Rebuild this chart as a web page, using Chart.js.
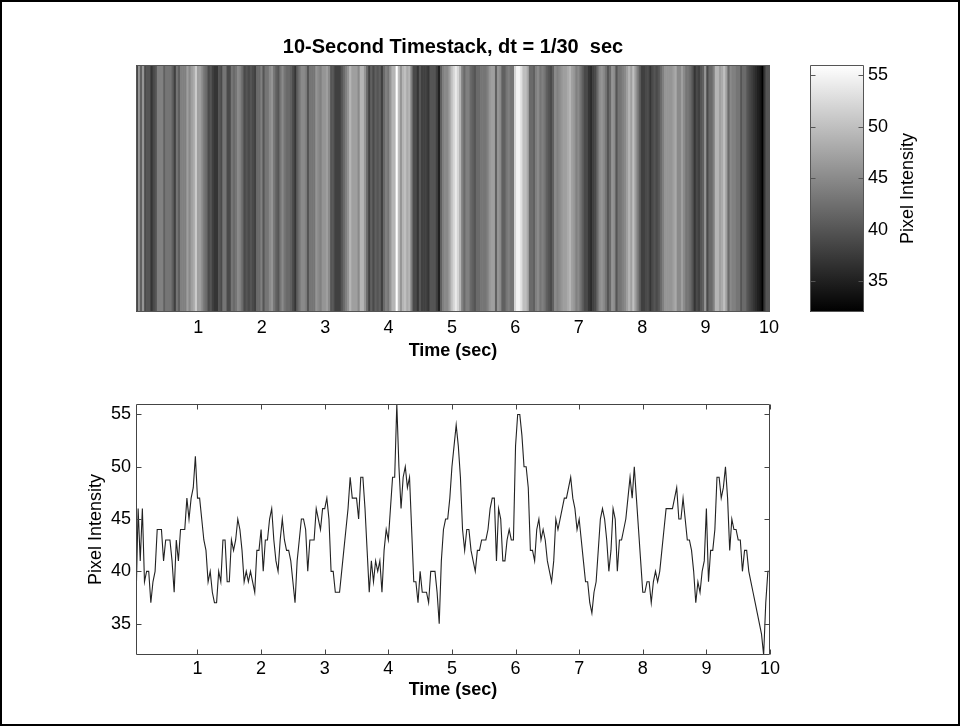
<!DOCTYPE html>
<html>
<head>
<meta charset="utf-8">
<title>10-Second Timestack</title>
<script src="https://cdn.jsdelivr.net/npm/chart.js@4.4.1/dist/chart.umd.min.js"></script>
<style>
  html, body { margin: 0; padding: 0; background: #fff; }
  #page { position: relative; width: 960px; height: 726px; overflow: hidden; }
  #page canvas { position: absolute; }
  #edge { position: absolute; left: 0; top: 0; width: 960px; height: 726px; box-sizing: border-box; border: 2px solid #000; pointer-events: none; }
</style>
</head>
<body>
<div id="page">
  <canvas id="stack" width="960" height="380" style="left:0;top:0"></canvas>
  <canvas id="colorbar" width="180" height="380" style="left:780px;top:0"></canvas>
  <canvas id="trace" width="960" height="346" style="left:0;top:380px"></canvas>
  <div id="edge"></div>
</div>
<script>
const DT = 1 / 30;
const DURATION = 10;

// one sample every 1/30 s, one row per second
const PIXEL_INTENSITY = [
  37, 46, 41, 46, 39, 40, 40, 37, 39, 40, 44, 44, 44, 41, 43, 43, 43, 41, 38, 43, 41, 44, 44, 44, 47, 45, 47, 48, 51, 47,
  47, 45, 43, 42, 39, 40, 38, 37, 37, 40, 39, 43, 43, 39, 39, 43, 42, 43, 45, 44, 42, 39, 40, 39, 40, 39, 38, 42, 42, 44,
  40, 43, 43, 45, 46, 43, 41, 40, 43, 45, 43, 42, 42, 41, 39, 37, 41, 43, 45, 45, 44, 40, 43, 43, 43, 46, 45, 44, 46, 46,
  47, 45, 40, 40, 38, 38, 38, 40, 42, 44, 46, 49, 47, 47, 47, 45, 49, 49, 46, 42, 38, 41, 39, 41, 40, 41, 38, 42, 44, 43,
  46, 49, 49, 56, 50, 46, 49, 50, 48, 49, 44, 39, 39, 37, 40, 38, 38, 38, 37, 40, 40, 40, 38, 35, 41, 44, 45, 45, 47, 50,
  52, 54, 52, 49, 44, 42, 44, 44, 42, 41, 40, 42, 42, 43, 43, 43, 44, 46, 47, 47, 41, 46, 45, 41, 41, 43, 44, 43, 43, 52,
  55, 55, 53, 50, 50, 48, 42, 42, 41, 44, 45, 43, 44, 43, 41, 40, 39, 41, 45, 44, 45, 46, 47, 47, 48, 49, 47, 46, 44, 45,
  43, 41, 39, 39, 37, 36, 38, 39, 42, 45, 46, 45, 43, 40, 42, 46, 45, 40, 43, 43, 44, 45, 47, 49, 47, 50, 47, 44, 41, 38,
  38, 39, 39, 37, 39, 40, 39, 40, 42, 44, 46, 46, 46, 46, 47, 48, 45, 45, 47, 45, 43, 43, 42, 40, 37, 39, 38, 40, 41, 46,
  39, 42, 42, 44, 49, 49, 47, 48, 50, 47, 42, 45, 44, 44, 43, 43, 40, 42, 42, 40, 39, 38, 37, 36, 35, 34, 32, 37, 40, 40
];

const TIME_TICKS = [1, 2, 3, 4, 5, 6, 7, 8, 9, 10];
const INTENSITY_TICKS = [35, 40, 45, 50, 55];
const COLOR_MIN = 32;
const COLOR_MAX = 56;

const TITLE = `10-Second Timestack, dt = 1/30  sec`;
const TIME_LABEL = `Time (sec)`;
const INTENSITY_LABEL = `Pixel Intensity`;

const FONT = `"Liberation Sans", Arial, Helvetica, sans-serif`;
const TICK_FONT = {family: FONT, size: 18};
const LABEL_FONT = {family: FONT, size: 18, weight: `bold`};

const times = PIXEL_INTENSITY.map((v, i) => (i + 1) * DT);

const toGray = (v) => {
  const g = Math.round((v - COLOR_MIN) / (COLOR_MAX - COLOR_MIN) * 255);
  return `rgb(${g},${g},${g})`;
};

const setTicks = (values) => (scale) => {
  scale.ticks = values.map((value) => ({value}));
};

const fixSize = (size) => (scale) => {
  if (scale.isHorizontal()) {
    scale.height = size;
  } else {
    scale.width = size;
  }
  scale.paddingLeft = 0;
  scale.paddingRight = 0;
  scale.paddingTop = 0;
  scale.paddingBottom = 0;
};

// box around the axes with short inward ticks, matlab style
const framePlugin = {
  id: `frame`,
  afterDraw(chart, args, opts) {
    const {ctx, chartArea: a, scales} = chart;
    const len = 5;
    const left = Math.round(a.left) + 0.5;
    const right = Math.round(a.right) - 0.5;
    const top = Math.round(a.top) + 0.5;
    const bottom = Math.round(a.bottom) - 0.5;

    ctx.save();
    ctx.strokeStyle = opts.color || `#444`;
    ctx.lineWidth = 1;
    ctx.beginPath();
    ctx.rect(left, top, right - left, bottom - top);

    (opts.xTicks || []).forEach((v) => {
      const x = Math.round(scales.x.getPixelForValue(v)) + 0.5;
      ctx.moveTo(x, bottom);
      ctx.lineTo(x, bottom - len);
      ctx.moveTo(x, top);
      ctx.lineTo(x, top + len);
    });
    (opts.yTicks || []).forEach((v) => {
      const y = Math.round(scales.y.getPixelForValue(v)) + 0.5;
      ctx.moveTo(left, y);
      ctx.lineTo(left + len, y);
      ctx.moveTo(right, y);
      ctx.lineTo(right - len, y);
    });
    ctx.stroke();
    ctx.restore();
  }
};

// colorbar label reads bottom to top, chart.js would turn it the other way on a right axis
const sideLabelPlugin = {
  id: `sideLabel`,
  afterDraw(chart, args, opts) {
    if (!opts.text) {
      return;
    }
    const {ctx, chartArea: a} = chart;
    ctx.save();
    ctx.translate(opts.x, (a.top + a.bottom) / 2);
    ctx.rotate(-Math.PI / 2);
    ctx.font = `${opts.size}px ${FONT}`;
    ctx.fillStyle = `#000`;
    ctx.textAlign = `center`;
    ctx.textBaseline = `middle`;
    ctx.fillText(opts.text, 0, 0);
    ctx.restore();
  }
};

Chart.register(framePlugin, sideLabelPlugin);
Chart.defaults.font.family = FONT;
Chart.defaults.color = `#000`;

const timeAxis = (min, max, height, pad) => ({
  type: `linear`,
  min,
  max,
  offset: false,
  grid: {display: false, drawTicks: false, tickLength: 0},
  border: {display: false},
  ticks: {font: TICK_FONT, color: `#000`, padding: pad, autoSkip: false, maxRotation: 0},
  afterBuildTicks: setTicks(TIME_TICKS),
  afterFit: fixSize(height),
  title: {display: true, text: TIME_LABEL, font: LABEL_FONT, color: `#000`, padding: 0}
});

const baseOptions = {
  responsive: false,
  animation: false,
  events: [],
  plugins: {
    legend: {display: false},
    tooltip: {enabled: false}
  }
};

new Chart(document.getElementById(`stack`), {
  type: `bar`,
  data: {
    datasets: [{
      data: times.map((t) => ({x: t, y: 1})),
      backgroundColor: PIXEL_INTENSITY.map(toGray),
      borderWidth: 0,
      barPercentage: 1.3,
      categoryPercentage: 1
    }]
  },
  options: {
    ...baseOptions,
    layout: {padding: {left: 136, right: 190, top: 35, bottom: 18.2}},
    plugins: {
      ...baseOptions.plugins,
      title: {
        display: true,
        text: TITLE,
        color: `#000`,
        font: {family: FONT, size: 20, weight: `bold`},
        padding: {top: 0, bottom: 6}
      },
      frame: {color: `#555`}
    },
    scales: {
      x: timeAxis(DT / 2, DURATION + DT / 2, 49.8, 5),
      y: {display: false, min: 0, max: 1}
    }
  }
});

new Chart(document.getElementById(`colorbar`), {
  type: `bar`,
  data: {
    labels: [``],
    datasets: [{
      data: [[COLOR_MIN, COLOR_MAX]],
      backgroundColor: (c) => {
        const {ctx, chartArea} = c.chart;
        if (!chartArea) {
          return `#808080`;
        }
        const gradient = ctx.createLinearGradient(0, chartArea.bottom, 0, chartArea.top);
        gradient.addColorStop(0, `#000`);
        gradient.addColorStop(1, `#fff`);
        return gradient;
      },
      borderWidth: 0,
      barPercentage: 1,
      categoryPercentage: 1
    }]
  },
  options: {
    ...baseOptions,
    layout: {padding: {left: 30, right: 0, top: 65, bottom: 68}},
    plugins: {
      ...baseOptions.plugins,
      frame: {yTicks: INTENSITY_TICKS, color: `#555`},
      sideLabel: {text: INTENSITY_LABEL, x: 128, size: 18}
    },
    scales: {
      x: {display: false},
      y: {
        position: `right`,
        min: COLOR_MIN,
        max: COLOR_MAX,
        grid: {display: false, drawTicks: false, tickLength: 0},
        border: {display: false},
        ticks: {font: TICK_FONT, color: `#000`, padding: 4},
        afterBuildTicks: setTicks(INTENSITY_TICKS),
        afterFit: fixSize(96)
      }
    }
  }
});

new Chart(document.getElementById(`trace`), {
  type: `line`,
  data: {
    datasets: [{
      data: PIXEL_INTENSITY.map((v, i) => ({x: times[i], y: v})),
      borderColor: `#222`,
      borderWidth: 1.1,
      pointRadius: 0,
      tension: 0,
      fill: false
    }]
  },
  options: {
    ...baseOptions,
    layout: {padding: {left: 85.7, right: 190, top: 24, bottom: 25.2}},
    plugins: {
      ...baseOptions.plugins,
      frame: {xTicks: TIME_TICKS, yTicks: INTENSITY_TICKS, color: `#444`}
    },
    scales: {
      x: timeAxis(DT, DURATION, 45.8, 3),
      y: {
        min: COLOR_MIN,
        max: COLOR_MAX,
        grid: {display: false, drawTicks: false, tickLength: 0},
        border: {display: false},
        ticks: {font: TICK_FONT, color: `#000`, padding: 5},
        afterBuildTicks: setTicks(INTENSITY_TICKS),
        afterFit: fixSize(50.3),
        title: {display: true, text: INTENSITY_LABEL, font: {family: FONT, size: 18}, color: `#000`, padding: 0}
      }
    }
  }
});
</script>
</body>
</html>
